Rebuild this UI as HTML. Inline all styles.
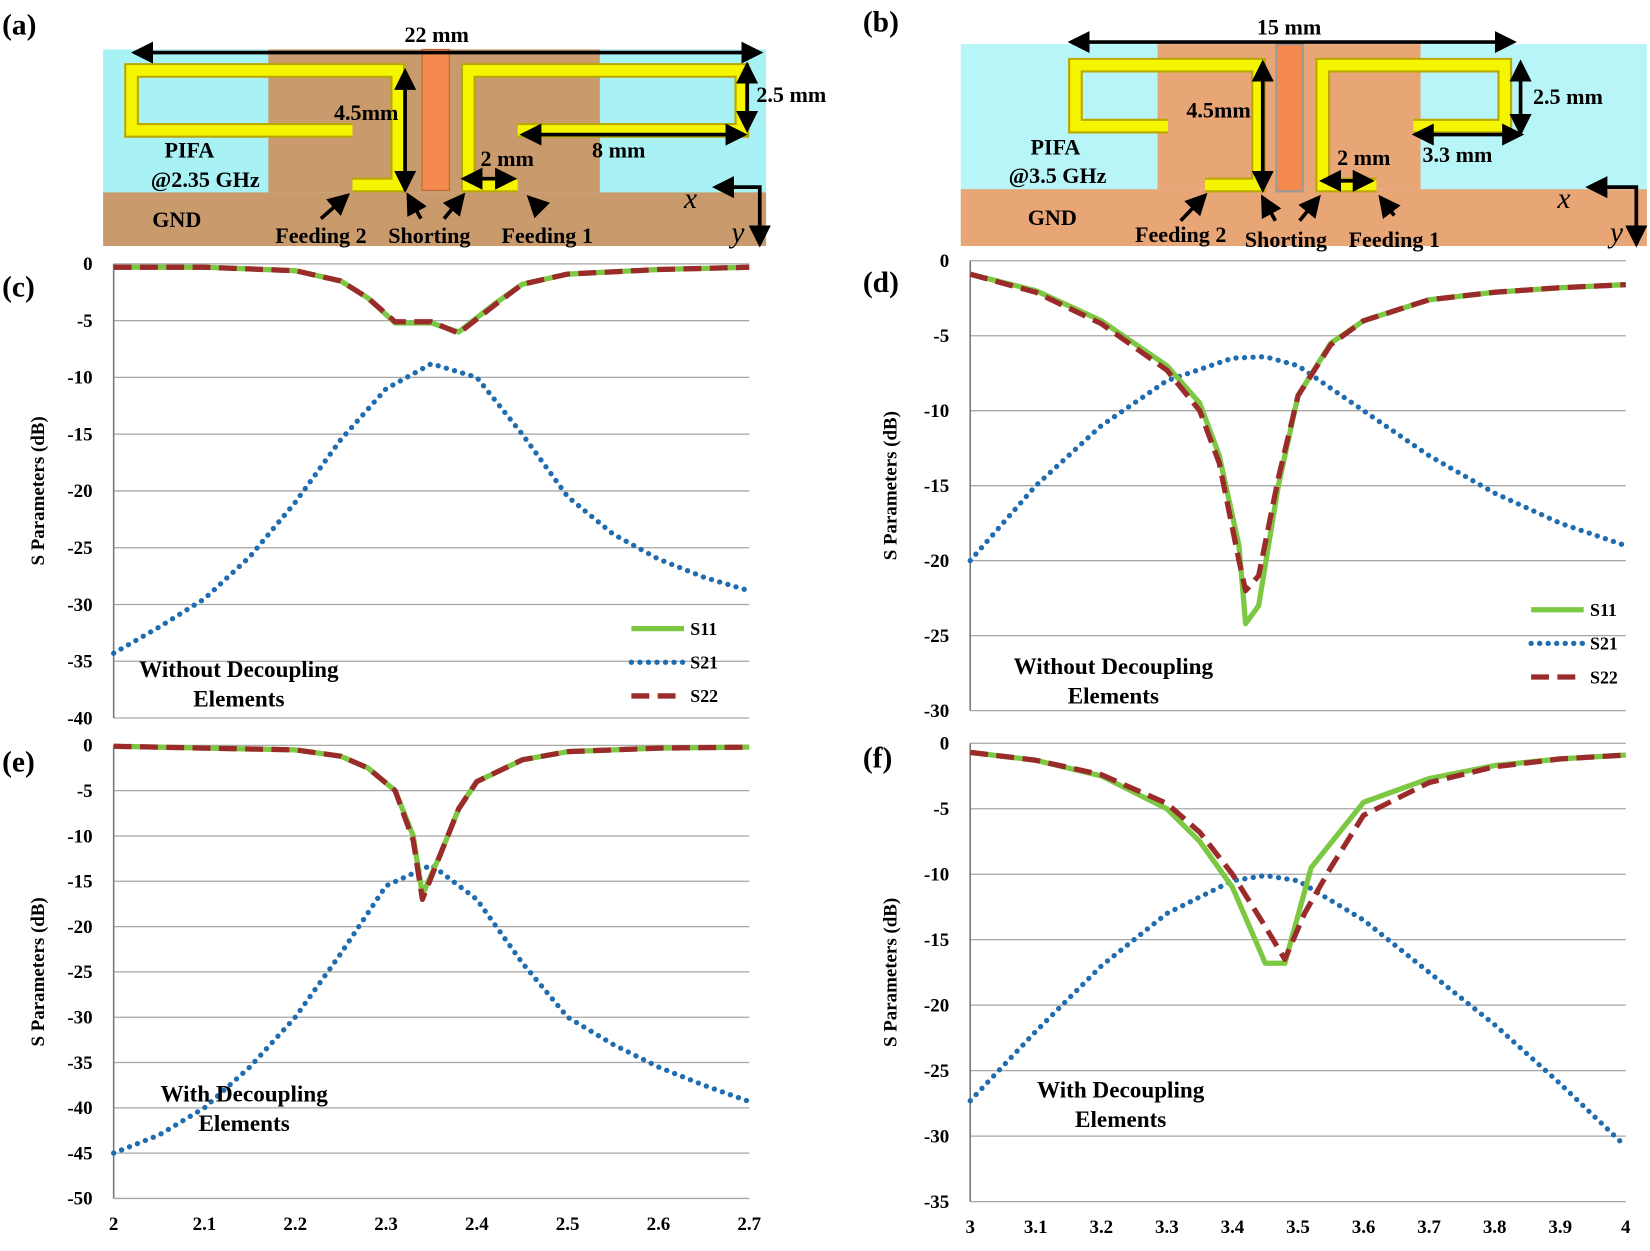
<!DOCTYPE html>
<html><head><meta charset="utf-8"><style>
html,body{margin:0;padding:0;background:#fff;}
svg{display:block;}
text{font-family:"Liberation Serif",serif;font-weight:bold;}
</style></head><body>
<svg id="s" width="1650" height="1251" viewBox="0 0 1568 1190" preserveAspectRatio="none" xmlns="http://www.w3.org/2000/svg">
<rect x="98" y="47" width="630" height="187" fill="#a8f2f5"/>
<rect x="255" y="47" width="315" height="136" fill="#c99a6c"/>
<rect x="98" y="183" width="630" height="51" fill="#c99a6c"/>
<rect x="401" y="47" width="26" height="134" fill="#f58a4e" stroke="#c06030" stroke-width="1"/>
<g fill="none" stroke-linejoin="miter">
<polyline points="335,124 125,124 125,67 378,67 378,176 335,176" stroke="#b8a800" stroke-width="14"/>
<polyline points="335,124 125,124 125,67 378,67 378,176 335,176" stroke="#f5f500" stroke-width="10"/>
<polyline points="492,124 705,124 705,67 445,67 445,176 492,176" stroke="#b8a800" stroke-width="14"/>
<polyline points="492,124 705,124 705,67 445,67 445,176 492,176" stroke="#f5f500" stroke-width="10"/>
</g>
<rect x="913" y="42" width="652" height="192" fill="#b8f5f8"/>
<rect x="1100" y="42" width="250" height="138" fill="#e8a575"/>
<rect x="913" y="180" width="652" height="54" fill="#e8a575"/>
<rect x="1213" y="42" width="25" height="140" fill="#f58a4e" stroke="#999" stroke-width="2"/>
<g fill="none">
<polyline points="1110,120 1022,120 1022,62 1196,62 1196,176 1145,176" stroke="#b8a800" stroke-width="14"/>
<polyline points="1110,120 1022,120 1022,62 1196,62 1196,176 1145,176" stroke="#f5f500" stroke-width="10"/>
<polyline points="1343,120 1430,120 1430,62 1257,62 1257,176 1308,176" stroke="#b8a800" stroke-width="14"/>
<polyline points="1343,120 1430,120 1430,62 1257,62 1257,176 1308,176" stroke="#f5f500" stroke-width="10"/>
</g>
<defs><marker id="ah" markerWidth="6" markerHeight="6" refX="5" refY="3" orient="auto-start-reverse" markerUnits="strokeWidth"><path d="M0,0 L6,3 L0,6 z" fill="#000"/></marker></defs>
<g stroke="#000" stroke-width="3.5" fill="none">
<line x1="128" y1="50" x2="722" y2="50" marker-start="url(#ah)" marker-end="url(#ah)"/>
<line x1="710" y1="62" x2="710" y2="123" marker-start="url(#ah)" marker-end="url(#ah)"/>
<line x1="497" y1="128" x2="707" y2="128" marker-start="url(#ah)" marker-end="url(#ah)"/>
<line x1="441" y1="170" x2="488" y2="170" marker-start="url(#ah)" marker-end="url(#ah)"/>
<line x1="385" y1="68" x2="385" y2="180" marker-start="url(#ah)" marker-end="url(#ah)"/>
<line x1="305" y1="208" x2="330" y2="186" marker-end="url(#ah)"/>
<line x1="400" y1="208" x2="388" y2="186" marker-end="url(#ah)"/>
<line x1="422" y1="208" x2="440" y2="186" marker-end="url(#ah)"/>
<line x1="515" y1="200" x2="503" y2="188" marker-end="url(#ah)"/>
<polyline points="722,232 722,178 680,178" marker-start="url(#ah)" marker-end="url(#ah)"/>
<line x1="1018" y1="40" x2="1438" y2="40" marker-start="url(#ah)" marker-end="url(#ah)"/>
<line x1="1445" y1="60" x2="1445" y2="126" marker-start="url(#ah)" marker-end="url(#ah)"/>
<line x1="1345" y1="128" x2="1445" y2="128" marker-start="url(#ah)" marker-end="url(#ah)"/>
<line x1="1257" y1="172" x2="1303" y2="172" marker-start="url(#ah)" marker-end="url(#ah)"/>
<line x1="1200" y1="60" x2="1200" y2="180" marker-start="url(#ah)" marker-end="url(#ah)"/>
<line x1="1122" y1="210" x2="1145" y2="186" marker-end="url(#ah)"/>
<line x1="1212" y1="210" x2="1200" y2="188" marker-end="url(#ah)"/>
<line x1="1235" y1="210" x2="1253" y2="188" marker-end="url(#ah)"/>
<line x1="1325" y1="205" x2="1312" y2="188" marker-end="url(#ah)"/>
<polyline points="1555,232 1555,178 1510,178" marker-start="url(#ah)" marker-end="url(#ah)"/>
</g>
<g font-size="21" fill="#000">
<text x="415" y="40" text-anchor="middle">22 mm</text>
<text x="752" y="97" text-anchor="middle">2.5 mm</text>
<text x="588" y="150" text-anchor="middle">8 mm</text>
<text x="482" y="158" text-anchor="middle">2 mm</text>
<text x="348" y="114" text-anchor="middle">4.5mm</text>
<text x="180" y="150" text-anchor="middle">PIFA</text>
<text x="195" y="178" text-anchor="middle">@2.35 GHz</text>
<text x="168" y="216" text-anchor="middle">GND</text>
<text x="305" y="231" text-anchor="middle">Feeding 2</text>
<text x="408" y="231" text-anchor="middle">Shorting</text>
<text x="520" y="231" text-anchor="middle">Feeding 1</text>
<text x="1225" y="33" text-anchor="middle">15 mm</text>
<text x="1490" y="99" text-anchor="middle">2.5 mm</text>
<text x="1385" y="154" text-anchor="middle">3.3 mm</text>
<text x="1296" y="157" text-anchor="middle">2 mm</text>
<text x="1158" y="112" text-anchor="middle">4.5mm</text>
<text x="1003" y="147" text-anchor="middle">PIFA</text>
<text x="1005" y="174" text-anchor="middle">@3.5 GHz</text>
<text x="1000" y="214" text-anchor="middle">GND</text>
<text x="1122" y="230" text-anchor="middle">Feeding 2</text>
<text x="1222" y="235" text-anchor="middle">Shorting</text>
<text x="1325" y="235" text-anchor="middle">Feeding 1</text>
</g>
<g font-size="28" font-style="italic" fill="#000">
<text x="650" y="198" style="font-weight:normal">x</text>
<text x="695" y="230" style="font-weight:normal">y</text>
<text x="1480" y="198" style="font-weight:normal">x</text>
<text x="1530" y="230" style="font-weight:normal">y</text>
</g>
<g font-size="28" fill="#000">
<text x="2" y="33">(a)</text><text x="820" y="30">(b)</text>
<text x="2" y="282">(c)</text><text x="820" y="278">(d)</text>
<text x="2" y="734">(e)</text><text x="820" y="730">(f)</text>
</g>
<g id="charts"></g>
</svg>
<script>
const NS="http://www.w3.org/2000/svg";const G=document.getElementById('charts');
function el(t,a,txt){const e=document.createElementNS(NS,t);for(const k in a)e.setAttribute(k,a[k]);if(txt!=null)e.textContent=txt;G.appendChild(e);return e;}
function chart(c){
 const X=v=>c.x0+(v-c.xmin)/(c.xmax-c.xmin)*(c.x1-c.x0);
 const Y=v=>c.y0+(-v)/(-c.ymin)*(c.y1-c.y0);
 for(let v=0;v>=c.ymin;v-=5){const y=Y(v);
  el('line',{x1:c.x0,x2:c.x1,y1:y,y2:y,stroke:'#a6a6a6','stroke-width':1.2});
  el('text',{x:c.x0-20,y:y+6,'text-anchor':'end','font-size':18},v);}
 el('line',{x1:c.x0,x2:c.x0,y1:c.y0,y2:c.y1,stroke:'#777','stroke-width':1.5});
 if(c.xt){for(const v of c.xt){el('text',{x:X(v),y:c.y1+30,'text-anchor':'middle','font-size':18},v);}}
 const cy=(c.y0+c.y1)/2;
 el('text',{x:c.lx,y:cy,'text-anchor':'middle','font-size':18,transform:`rotate(-90 ${c.lx} ${cy})`},'S Parameters (dB)');
 const p=d=>d.map(q=>X(q[0]).toFixed(1)+','+Y(q[1]).toFixed(1)).join(' ');
 el('polyline',{points:p(c.s21),fill:'none',stroke:'#1f6db0','stroke-width':5,'stroke-dasharray':'0.1 8','stroke-linecap':'round'});
 el('polyline',{points:p(c.s11),fill:'none',stroke:'#7cc843','stroke-width':5,'stroke-linejoin':'round'});
 el('polyline',{points:p(c.s22),fill:'none',stroke:'#9b2b2b','stroke-width':5,'stroke-dasharray':'17 8','stroke-linejoin':'round'});
 if(c.leg){const [lx,ly]=c.leg;
  el('line',{x1:lx,x2:lx+50,y1:ly,y2:ly,stroke:'#7cc843','stroke-width':5});
  el('line',{x1:lx,x2:lx+50,y1:ly+32,y2:ly+32,stroke:'#1f6db0','stroke-width':5,'stroke-dasharray':'0.1 8','stroke-linecap':'round'});
  el('line',{x1:lx,x2:lx+50,y1:ly+64,y2:ly+64,stroke:'#9b2b2b','stroke-width':5,'stroke-dasharray':'17 8'});
  ['S11','S21','S22'].forEach((s,i)=>el('text',{x:lx+56,y:ly+6+32*i,'font-size':17},s));}
 el('text',{x:c.tx,y:c.ty,'text-anchor':'middle','font-size':22},c.t1);
 el('text',{x:c.tx,y:c.ty+28,'text-anchor':'middle','font-size':22},'Elements');
}
chart({x0:108,x1:712,y0:251,y1:683,xmin:2,xmax:2.7,ymin:-40,lx:42,leg:[600,598],tx:227,ty:644,t1:'Without Decoupling',
 s11:[[2,-0.3],[2.1,-0.3],[2.2,-0.6],[2.25,-1.5],[2.28,-3],[2.31,-5.2],[2.35,-5.2],[2.38,-6],[2.42,-3.5],[2.45,-1.8],[2.5,-0.9],[2.6,-0.5],[2.7,-0.3]],
 s22:[[2,-0.3],[2.1,-0.3],[2.2,-0.6],[2.25,-1.5],[2.28,-3],[2.31,-5.1],[2.35,-5.1],[2.38,-6.1],[2.42,-3.6],[2.45,-1.8],[2.5,-0.9],[2.6,-0.5],[2.7,-0.3]],
 s21:[[2,-34.3],[2.05,-32],[2.1,-29.5],[2.15,-25.8],[2.2,-21],[2.25,-15.5],[2.3,-11],[2.35,-8.8],[2.4,-10],[2.45,-15],[2.5,-20.5],[2.55,-23.8],[2.6,-26],[2.65,-27.6],[2.7,-28.8]]});
chart({x0:922,x1:1545,y0:248,y1:676,xmin:3,xmax:4,ymin:-30,lx:852,leg:[1455,580],tx:1058,ty:641,t1:'Without Decoupling',
 s11:[[3,-0.9],[3.1,-2],[3.2,-4],[3.3,-7],[3.35,-9.5],[3.38,-13],[3.41,-19],[3.42,-24.2],[3.44,-23],[3.47,-15],[3.5,-9],[3.55,-5.5],[3.6,-4],[3.7,-2.6],[3.8,-2.1],[3.9,-1.8],[4,-1.6]],
 s22:[[3,-0.9],[3.1,-2.1],[3.2,-4.2],[3.3,-7.3],[3.35,-10],[3.38,-13.5],[3.41,-20],[3.42,-22],[3.44,-21],[3.47,-14.5],[3.5,-9],[3.55,-5.6],[3.6,-4],[3.7,-2.6],[3.8,-2.1],[3.9,-1.8],[4,-1.6]],
 s21:[[3,-20],[3.1,-15],[3.2,-11],[3.3,-8],[3.4,-6.5],[3.45,-6.4],[3.5,-7],[3.6,-10],[3.7,-13],[3.8,-15.5],[3.9,-17.5],[4,-19]]});
chart({x0:108,x1:712,y0:709,y1:1140,xmin:2,xmax:2.7,ymin:-50,lx:42,xt:[2,2.1,2.2,2.3,2.4,2.5,2.6,2.7],tx:232,ty:1048,t1:'With Decoupling',
 s11:[[2,-0.1],[2.2,-0.5],[2.25,-1.2],[2.28,-2.5],[2.31,-5],[2.33,-10],[2.34,-16.5],[2.36,-12],[2.38,-7],[2.4,-4],[2.45,-1.6],[2.5,-0.7],[2.6,-0.3],[2.7,-0.2]],
 s22:[[2,-0.1],[2.2,-0.5],[2.25,-1.2],[2.28,-2.5],[2.31,-5],[2.33,-10.5],[2.34,-17],[2.36,-12],[2.38,-7],[2.4,-4],[2.45,-1.6],[2.5,-0.7],[2.6,-0.3],[2.7,-0.2]],
 s21:[[2,-45],[2.05,-43],[2.1,-40],[2.15,-35.5],[2.2,-30],[2.25,-23],[2.3,-15.5],[2.35,-13.2],[2.4,-17],[2.45,-24],[2.5,-30],[2.55,-33],[2.6,-35.5],[2.65,-37.5],[2.7,-39.3]]});
chart({x0:922,x1:1545,y0:707,y1:1143,xmin:3,xmax:4,ymin:-35,lx:852,xt:[3,3.1,3.2,3.3,3.4,3.5,3.6,3.7,3.8,3.9,4],tx:1065,ty:1044,t1:'With Decoupling',
 s11:[[3,-0.7],[3.1,-1.3],[3.2,-2.5],[3.3,-5],[3.35,-7.5],[3.4,-11],[3.45,-16.8],[3.48,-16.8],[3.52,-9.5],[3.6,-4.5],[3.7,-2.7],[3.8,-1.7],[3.9,-1.2],[4,-0.9]],
 s22:[[3,-0.7],[3.1,-1.3],[3.2,-2.4],[3.3,-4.6],[3.35,-6.8],[3.4,-10],[3.45,-14],[3.48,-16.5],[3.51,-13],[3.55,-9.5],[3.6,-5.5],[3.7,-3],[3.8,-1.8],[3.9,-1.2],[4,-0.9]],
 s21:[[3,-27.3],[3.1,-22],[3.2,-17],[3.3,-13],[3.4,-10.5],[3.45,-10.1],[3.5,-10.5],[3.6,-13.5],[3.7,-17.5],[3.8,-21.5],[3.9,-26],[4,-30.8]]});
</script>
</body></html>
